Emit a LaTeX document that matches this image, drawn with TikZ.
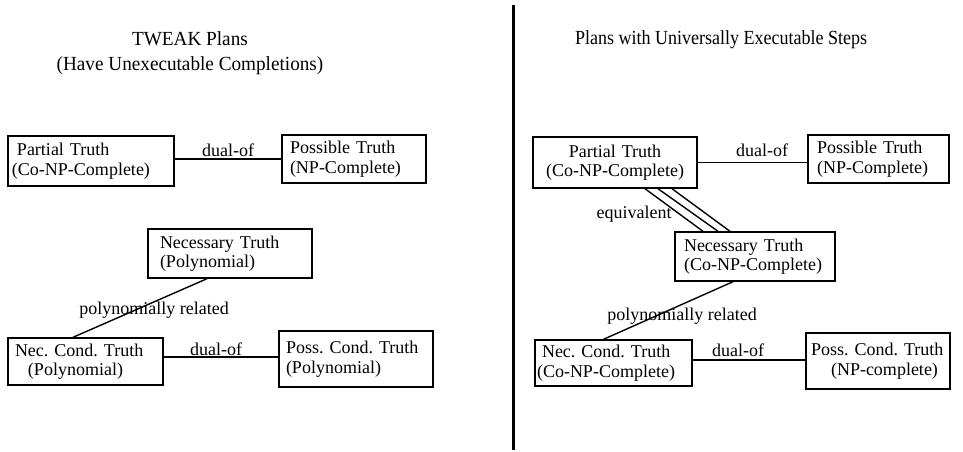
\documentclass[tikz,border=0pt]{standalone}
\usepackage{fontspec}
\setmainfont{Liberation Serif}
\frenchspacing
\begin{document}
\begin{tikzpicture}[x=1pt,y=1pt,
  bx/.style={draw,line width=1.4pt,inner xsep=0pt,inner ysep=0pt,align=left,
    font=\fontsize{18}{19.5}\selectfont\frenchspacing},
  lbl/.style={inner sep=0pt,font=\fontsize{18}{19.5}\selectfont},
  ttl/.style={inner sep=0pt,align=center,font=\fontsize{20}{25}\selectfont},
  conn/.style={line width=1.4pt}]
\useasboundingbox (0,0) rectangle (963,-451);
% divider
\draw[line width=3pt] (513,-5) -- (513,-450);
% titles
\node[ttl] (tl) at (190,-53) {\scalebox{0.96}[1]{TWEAK Plans}\\\scalebox{0.96}[1]{(Have Unexecutable Completions)}};
\node[ttl] (tr) at (721,-40) {\scalebox{0.9}[1]{Plans with Universally Executable Steps}};
% left boxes
\node[bx,minimum width=166pt,minimum height=50pt,text width=158pt] (L1) at (91,-161) {\hspace*{5pt}Partial Truth\\(Co-NP-Complete)};
\node[bx,minimum width=144pt,minimum height=48pt,text width=128pt] (L2) at (354,-159) {Possible Truth\\(NP-Complete)};
\node[bx,minimum width=164pt,minimum height=49pt,text width=140pt] (L3) at (230,-253.5) {Necessary Truth\\(Polynomial)};
\node[bx,minimum width=155pt,minimum height=47pt,text width=141pt] (L4) at (85.5,-361.5) {Nec. Cond. Truth\\\hspace*{13pt}(Polynomial)};
\node[bx,minimum width=154pt,minimum height=56pt,text width=140pt] (L5) at (356,-359) {Poss. Cond. Truth\\(Polynomial)};
% right boxes
\node[bx,align=center,minimum width=164pt,minimum height=51pt,text width=160pt] (R1) at (615,-162.5) {Partial Truth\\(Co-NP-Complete)};
\node[bx,minimum width=141pt,minimum height=48pt,text width=123pt] (R2) at (878.5,-159) {Possible Truth\\(NP-Complete)};
\node[bx,minimum width=160pt,minimum height=49pt,text width=142pt] (R3) at (755,-256.5) {Necessary Truth\\(Co-NP-Complete)};
\node[bx,minimum width=157pt,minimum height=46pt,text width=153pt] (R4) at (613.5,-363) {\hspace*{5pt}Nec. Cond. Truth\\(Co-NP-Complete)};
\node[bx,minimum width=144pt,minimum height=56pt,text width=134pt] (R5) at (878,-361) {Poss. Cond. Truth\\\hspace*{20pt}(NP-complete)};
% connectors left
\draw[conn] (L1.east |- L2.west) -- (L2.west);
\draw[conn] ([xshift=-23pt]L3.south) -- ([xshift=-12.5pt]L4.north);
\draw[conn] ([yshift=4.5pt]L4.east) -- ([yshift=2pt]L5.west);
% connectors right
\draw[conn] (R1.east) -- (R2.west |- R1.east);
\draw[conn] ([xshift=30pt]R1.south) -- ([xshift=-52pt]R3.north);
\draw[conn] ([xshift=43pt]R1.south) -- ([xshift=-37pt]R3.north);
\draw[conn] ([xshift=57pt]R1.south) -- ([xshift=-25pt]R3.north);
\draw[conn] ([xshift=-22pt]R3.south) -- ([xshift=-10pt]R4.north);
\draw[conn] ([yshift=3pt]R4.east) -- ([yshift=1pt]R5.west);
% labels
\node[lbl] (d1) at (228,-150) {dual-of};
\node[lbl] (d2) at (216,-349) {dual-of};
\node[lbl] (d3) at (762,-150) {dual-of};
\node[lbl] (d4) at (738,-350) {dual-of};
\node[lbl] (p1) at (154,-310) {polynomially related};
\node[lbl] (p2) at (682,-316) {polynomially related};
\node[lbl] (eq) at (634,-214) {equivalent};
\end{tikzpicture}
\end{document}
